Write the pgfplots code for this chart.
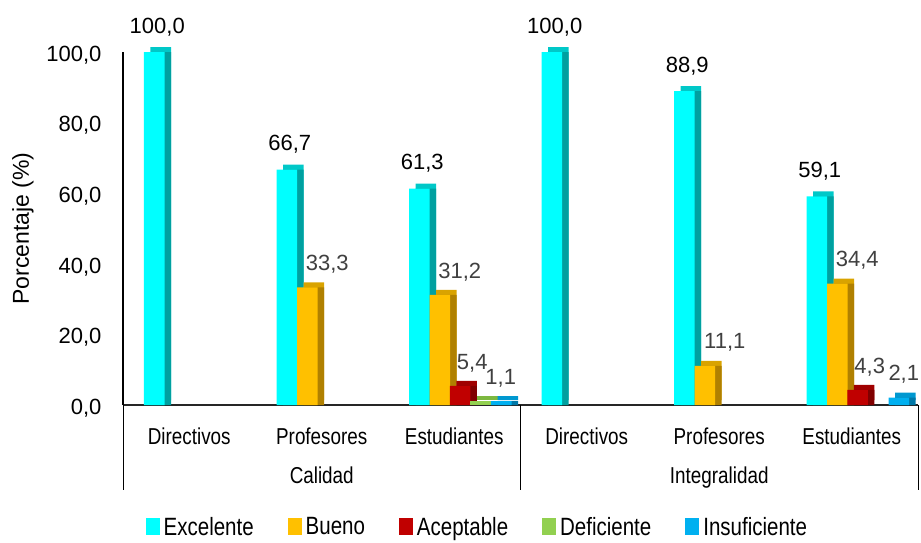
\documentclass[border=0pt]{standalone}
\usepackage{fontspec}
\setmainfont{Liberation Sans}
\newfontfamily\narrow{Liberation Sans}[FakeStretch=0.82]
\usepackage{pgfplots}
\usepackage{pgfplotstable}
\pgfplotsset{compat=1.18}

% front / top / side colours of the 3D bars
\definecolor{exF}{HTML}{00FFFF}\definecolor{exT}{HTML}{00C8C8}\definecolor{exS}{HTML}{00A0A0}
\definecolor{buF}{HTML}{FFC000}\definecolor{buT}{HTML}{D9A300}\definecolor{buS}{HTML}{B08000}
\definecolor{acF}{HTML}{C00000}\definecolor{acT}{HTML}{A00000}\definecolor{acS}{HTML}{800000}
\definecolor{deF}{HTML}{92D050}\definecolor{deT}{HTML}{7DB840}\definecolor{deS}{HTML}{66A030}
\definecolor{inF}{HTML}{00B0F0}\definecolor{inT}{HTML}{0098D0}\definecolor{inS}{HTML}{0078A8}
\definecolor{lab}{HTML}{404040}

% x: 0-2 Calidad (Directivos, Profesores, Estudiantes), 3-5 Integralidad
\pgfplotstableread{
x y lab
0 100.0 100,0
1 66.7 66,7
2 61.3 61,3
3 100.0 100,0
4 88.9 88,9
5 59.1 59,1
}\exctab
\pgfplotstableread{
x y lab
1 33.3 33,3
2 31.2 31,2
4 11.1 11,1
5 34.4 34,4
}\buetab
\pgfplotstableread{
x y lab
2 5.4 5,4
5 4.3 4,3
}\acetab
\pgfplotstableread{
x y lab
2 1.1 1,1
}\deftab
\pgfplotstableread{
x y lab
2 1.1 {}
5 2.1 2,1
}\instab

\pgfplotsset{
  top3d/.style 2 args={forget plot, draw=none, fill=#1, bar shift=#2, xshift=6.5pt, yshift=5pt},
  side3d/.style 2 args={forget plot, draw=none, fill=#1, bar shift=#2, xshift=6.5pt},
  front3d/.style 2 args={draw=none, fill=#1, bar shift=#2,
    point meta=explicit symbolic, nodes near coords,
    legend image code/.code={\fill[fill=#1] (0pt,-8pt) rectangle (14pt,9pt);}},
  other lab/.style={nodes near coords style={anchor=center, xshift=#1, yshift=23pt,
    font=\fontsize{22}{26}\selectfont, text=lab}},
}

\begin{document}
\begin{tikzpicture}
\useasboundingbox (-123pt,-137pt) rectangle (798pt,405pt);
\begin{axis}[
    scale only axis,
    width=795pt, height=353pt,
    xmin=-0.5, xmax=5.5, ymin=0, ymax=100,
    ybar, bar width=0.155,
    clip=false,
    axis x line*=bottom, axis y line*=left,
    x axis line style={-, line width=1.6pt, black!85},
    y axis line style={-, line width=1.2pt, black},
    major tick length=0pt,
    xtick={0,...,5},
    xticklabels={Directivos, Profesores, Estudiantes, Directivos, Profesores, Estudiantes},
    xticklabel style={font=\narrow\fontsize{23}{27}\selectfont, anchor=base, yshift=-39pt},
    ytick={0,20,...,100},
    yticklabel style={font=\fontsize{22}{26}\selectfont, xshift=-18pt, yshift=-3pt,
      /pgf/number format/.cd, fixed, fixed zerofill, precision=1, use comma, assume math mode=true},
    ylabel={Porcentaje (\%)},
    every axis y label/.style={at={(axis description cs:-0.126,0.5)}, rotate=90, anchor=center,
      font=\fontsize{23}{27}\selectfont},
    legend style={at={(axis description cs:0.447,-0.346)}, anchor=center, draw=none, fill=none,
      legend columns=5, font=\narrow\fontsize{25}{29}\selectfont,
      nodes={inner xsep=4pt},
      /tikz/every even column/.append style={column sep=30pt}},
  ]

  % Excelente
  \addplot[top3d={exT}{-0.264}] table[x=x, y=y] {\exctab};
  \addplot[side3d={exS}{-0.264}] table[x=x, y=y] {\exctab};
  \addplot[front3d={exF}{-0.264}, nodes near coords style={anchor=center, xshift=3pt, yshift=25pt,
      font=\fontsize{22}{26}\selectfont, text=black}] table[x=x, y=y, meta=lab] {\exctab};

  % Bueno
  \addplot[top3d={buT}{-0.109}] table[x=x, y=y] {\buetab};
  \addplot[side3d={buS}{-0.109}] table[x=x, y=y] {\buetab};
  \addplot[front3d={buF}{-0.109}, other lab=20pt] table[x=x, y=y, meta=lab] {\buetab};

  % Aceptable
  \addplot[top3d={acT}{0.045}] table[x=x, y=y] {\acetab};
  \addplot[side3d={acS}{0.045}] table[x=x, y=y] {\acetab};
  \addplot[front3d={acF}{0.045}, other lab=12pt] table[x=x, y=y, meta=lab] {\acetab};

  % Deficiente
  \addplot[top3d={deT}{0.200}] table[x=x, y=y] {\deftab};
  \addplot[side3d={deS}{0.200}] table[x=x, y=y] {\deftab};
  \addplot[front3d={deF}{0.200}, other lab=20pt] table[x=x, y=y, meta=lab] {\deftab};

  % Insuficiente
  \addplot[top3d={inT}{0.355}] table[x=x, y=y] {\instab};
  \addplot[side3d={inS}{0.355}] table[x=x, y=y] {\instab};
  \addplot[front3d={inF}{0.355}, other lab=5pt] table[x=x, y=y, meta=lab] {\instab};

  \legend{Excelente, Bueno, Aceptable, Deficiente, Insuficiente}

  % group dividers and group names
  \draw[line width=0.9pt] (axis cs:-0.5,0) -- ++(0pt,-85pt);
  \draw[line width=0.9pt] (axis cs:2.5,0) -- ++(0pt,-85pt);
  \draw[line width=0.9pt] (axis cs:5.5,0) -- ++(0pt,-85pt);
  \node[anchor=base, font=\narrow\fontsize{23}{27}\selectfont, yshift=-78pt] at (axis cs:1,0) {Calidad};
  \node[anchor=base, font=\narrow\fontsize{23}{27}\selectfont, yshift=-78pt] at (axis cs:4,0) {Integralidad};
\end{axis}
\end{tikzpicture}
\end{document}
